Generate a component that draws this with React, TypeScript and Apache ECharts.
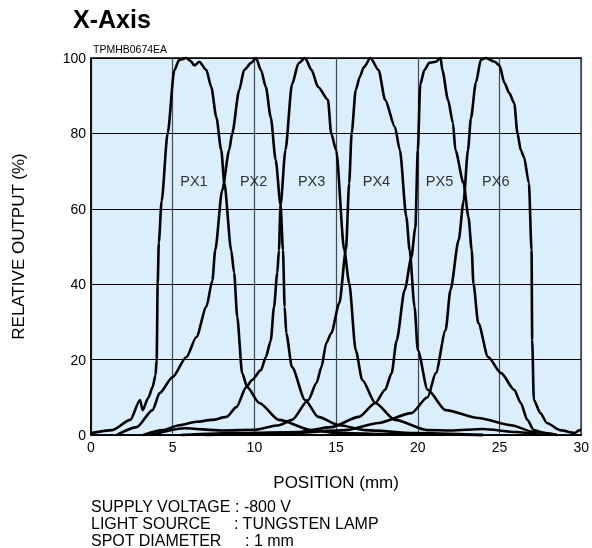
import React, { useEffect, useRef } from "react";
import * as echarts from "echarts";

const FONT = "'Liberation Sans', Arial, Helvetica, sans-serif";

const xTicks = [0, 5, 10, 15, 20, 25, 30];
const yTicks = [0, 20, 40, 60, 80, 100];

const seriesNames = ["PX1", "PX2", "PX3", "PX4", "PX5", "PX6"];

const px1 = [
  [0, 0.5], [1.3, 1.3], [2.4, 4.0], [3.0, 9.3], [3.16, 6.6], [3.5, 9.8], [3.77, 12.7], [3.95, 16], [4.02, 20],
  [4.08, 40], [4.15, 51], [4.32, 62], [4.69, 80], [5.1, 96.8], [5.4, 99.5], [5.84, 100], [6.1, 99.2], [6.33, 98],
  [6.63, 99], [7.06, 96.8], [7.36, 92.3], [7.67, 84.3], [7.97, 75.6], [8.16, 66.8], [8.58, 49], [8.76, 43],
  [8.95, 31.3], [9.25, 16.4], [9.56, 12.7], [10.3, 8.5], [11.5, 4.0], [13.5, 1.3], [15.2, 0.5], [19, 0.2], [24, 0],
];
const px2 = [
  [1.58, 0], [2.8, 2.1], [3.77, 6.6], [4.2, 11.1], [5.0, 15.4], [5.84, 20.7], [6.45, 26], [7.06, 34], [7.43, 41],
  [7.6, 49], [8.03, 65], [8.46, 75.6], [8.64, 80], [9.07, 91.5], [9.37, 96.8], [9.8, 98.7], [10.1, 100], [10.4, 96.8],
  [10.7, 92.3], [11.0, 84.3], [11.3, 73], [11.6, 61], [11.75, 49], [11.85, 34], [11.95, 27], [12.3, 18], [13.1, 9.3],
  [13.9, 4.8], [15.2, 2.6], [16.8, 1.3], [19.8, 0.5], [24, 0],
];
const px3 = [
  [3.2, 0], [4.4, 1.3], [5.4, 2.6], [6.45, 3.5], [7.4, 4.0], [8.3, 4.8], [8.9, 7.4], [9.5, 12.7], [9.86, 14.6],
  [10.4, 17.2], [10.7, 20.7], [11.0, 25], [11.2, 34], [11.4, 43], [11.5, 49], [11.6, 61], [11.9, 75.6], [12.3, 93],
  [12.7, 98.6], [13.1, 100], [13.5, 96.8], [13.9, 92.3], [14.5, 88.9], [14.7, 80], [15.0, 75.6], [15.5, 49],
  [15.8, 40.3], [16.2, 22.5], [16.6, 14.6], [17.4, 8.5], [18.6, 4], [20.6, 1.3], [22, 1.2], [24, 1.6], [26, 0.8],
  [27.5, 0],
];
const px4 = [
  [3.7, 0], [5.7, 1.8], [8, 1.2], [10, 1.4], [11.5, 2.6], [12.3, 4], [13.3, 9.3], [13.8, 13.8], [14.1, 18],
  [14.4, 24.4], [14.7, 27], [15.2, 35], [15.6, 49], [15.8, 66.8], [15.95, 80], [16.2, 91.5], [16.45, 95],
  [16.7, 97.6], [17.1, 100], [17.6, 96.8], [18.0, 88.9], [18.6, 81.7], [18.9, 75.6], [19.3, 57.8], [19.5, 49],
  [19.8, 34], [20.0, 22.5], [20.6, 12], [21.7, 6.6], [23.7, 4.5], [25.7, 2.6], [27.1, 0.8], [28.5, 0],
];
const px5 = [
  [5.5, 0], [9, 0.5], [12.7, 0.8], [14.7, 2.1], [16.4, 4.8], [17.4, 8.5], [18.0, 12], [18.4, 16.4], [18.7, 25],
  [19.2, 38.5], [19.6, 47], [19.85, 55], [20.0, 75.6], [20.15, 93], [20.4, 96.8], [20.7, 98.7], [21.1, 99],
  [21.4, 100], [21.5, 96.8], [21.85, 88.9], [22.15, 82.8], [22.3, 75.6], [22.8, 66.8], [23.1, 57.8], [23.3, 49],
  [23.4, 40.3], [23.7, 29.7], [24.3, 20.7], [25.1, 16.4], [25.9, 12], [26.3, 8.5], [26.7, 4], [27.1, 1.3],
  [27.8, 0.5], [28.5, 0],
];
const px6 = [
  [7, 0], [12, 0.5], [15.6, 1.3], [17.6, 3.2], [19.6, 5.8], [20.6, 10], [21.1, 16.4], [21.7, 27.8], [22.0, 38.5],
  [22.5, 51.7], [22.8, 62], [23.07, 75.6], [23.25, 84], [23.55, 93.4], [23.86, 99.5], [24.16, 100], [24.7, 99],
  [25.0, 98], [25.3, 93.4], [25.6, 90.7], [25.9, 88], [26.1, 80], [26.3, 75.6], [26.5, 73.7], [26.8, 66.8],
  [26.96, 49], [27.0, 25.2], [27.1, 9.3], [27.5, 5.8], [27.9, 3.2], [28.7, 1.3], [29.6, 0.5], [29.9, 1.3], [30, 1.3],
];
const curves = [px1, px2, px3, px4, px5, px6];

const labelX = [6.3, 9.95, 13.5, 17.47, 21.33, 24.77];
const labelY = [67.4, 67.4, 67.4, 67.4, 67.4, 67.4];

const notes = [
  ["SUPPLY VOLTAGE", ": -800 V"],
  ["LIGHT SOURCE", ": TUNGSTEN LAMP"],
  ["SPOT DIAMETER", ": 1 mm"],
];

export default function App() {
  const ref = useRef<HTMLDivElement>(null);
  useEffect(() => {
    if (!ref.current) return;
    const chart = echarts.init(ref.current, undefined, { renderer: "svg" });
    const lineSeries = curves.map((c, i) => ({
      type: "line",
      name: seriesNames[i],
      data: c,
      showSymbol: false,
      smooth: 0.25,
      smoothMonotone: "x",
      clip: false,
      lineStyle: { color: "#000", width: 2.6 },
      z: 3,
    }));
    const noteY = [506, 523, 540];
    const noteColonX = [235, 234, 245];
    const graphics: any[] = [
      {
        type: "text",
        left: 73,
        top: 6,
        style: { text: "X-Axis", font: `bold 25px ${FONT}`, fill: "#000" },
      },
      {
        type: "text",
        left: 93,
        top: 43,
        style: { text: "TPMHB0674EA", font: `10.5px ${FONT}`, fill: "#000" },
      },
    ];
    notes.forEach((n, i) => {
      graphics.push({
        type: "text",
        x: 91,
        y: noteY[i],
        style: { text: n[0], font: `16px ${FONT}`, fill: "#000", verticalAlign: "middle" },
      });
      graphics.push({
        type: "text",
        x: noteColonX[i],
        y: noteY[i],
        style: { text: n[1], font: `16px ${FONT}`, fill: "#000", verticalAlign: "middle" },
      });
    });

    chart.setOption({
      animation: false,
      grid: {
        left: 91,
        top: 58,
        right: 8,
        bottom: 113,
        show: true,
        backgroundColor: "#dbeefc",
        borderColor: "#000",
        borderWidth: 1.5,
        z: 0,
      },
      xAxis: {
        type: "value",
        min: xTicks[0],
        max: xTicks[xTicks.length - 1],
        interval: 5,
        name: "POSITION (mm)",
        nameLocation: "middle",
        nameGap: 39,
        nameTextStyle: { fontFamily: FONT, fontSize: 17, color: "#000" },
        axisLine: { show: true, lineStyle: { color: "#000", width: 1.5 } },
        axisTick: { show: false },
        axisLabel: { fontFamily: FONT, fontSize: 14, color: "#000", margin: 5 },
        splitLine: { show: true, lineStyle: { color: "#3f4a55", width: 1.2 } },
      },
      yAxis: {
        type: "value",
        min: yTicks[0],
        max: yTicks[yTicks.length - 1],
        interval: 20,
        name: "RELATIVE OUTPUT (%)",
        nameLocation: "middle",
        nameGap: 64,
        nameTextStyle: { fontFamily: FONT, fontSize: 17, color: "#000" },
        axisLine: { show: true, lineStyle: { color: "#000", width: 1.5 } },
        axisTick: { show: false },
        axisLabel: { fontFamily: FONT, fontSize: 14, color: "#000", margin: 5 },
        splitLine: { show: true, lineStyle: { color: "#000", width: 1 } },
      },
      series: [
        ...lineSeries,
        {
          type: "scatter",
          data: labelX.map((x, i) => ({ value: [x, labelY[i]], name: seriesNames[i] })),
          symbolSize: 0,
          label: {
            show: true,
            position: "inside",
            formatter: (p: any) => p.name,
            fontFamily: FONT,
            fontSize: 14.5,
            color: "#000",
          },
          z: 4,
        },
      ],
      graphic: graphics,
    });
    return () => chart.dispose();
  }, []);
  return <div ref={ref} style={{ position: "fixed", left: 0, top: 0, width: 592, height: 548 }} />;
}
